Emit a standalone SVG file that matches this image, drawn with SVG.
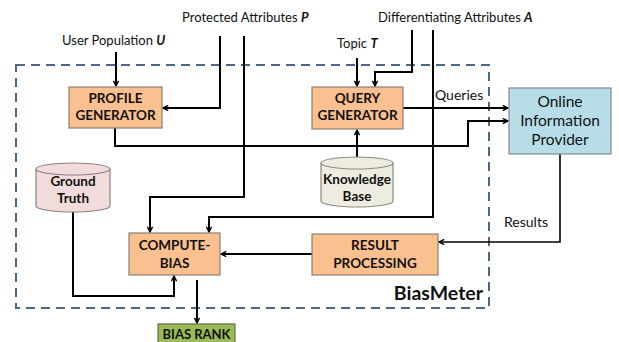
<svg xmlns="http://www.w3.org/2000/svg" width="619" height="342" viewBox="0 0 619 342">
<style>
text{font-family:Lato,"Open Sans","Liberation Sans",sans-serif;fill:#111}
.lbl{font-size:13px}
.b{font-weight:bold;font-size:13.5px;text-anchor:middle}
.oip{font-size:15.5px;text-anchor:middle}
.box{fill:#fac08f;stroke:#8c7f74;stroke-width:1.2}
.c{fill:none;stroke:#000;stroke-width:2}
</style>
<defs>
<marker id="ah" viewBox="0 0 10 10" refX="9" refY="5" markerWidth="6.5" markerHeight="6.5" orient="auto" markerUnits="userSpaceOnUse">
<path d="M1,1 L9,5 L1,9" fill="none" stroke="#000" stroke-width="2.2"/>
</marker>
</defs>
<rect x="16" y="65" width="473" height="243" fill="none" stroke="#4a6888" stroke-width="2" stroke-dasharray="9,6"/>
<text x="483" y="300" style="font-size:19.5px;font-weight:bold;text-anchor:end">BiasMeter</text>

<g id="connectors">
<path class="c" d="M116,52 V86" marker-end="url(#ah)"/>
<path class="c" d="M220,36 V108 H163" marker-end="url(#ah)"/>
<path class="c" d="M244,36 V197 H150 V232" marker-end="url(#ah)"/>
<path class="c" d="M115,128 V146 H468 V121 H508" marker-end="url(#ah)"/>
<path class="c" d="M357,58 V86" marker-end="url(#ah)"/>
<path class="c" d="M412,30 V72 H375 V86" marker-end="url(#ah)"/>
<path class="c" d="M433,30 V217 H209 V232" marker-end="url(#ah)"/>
<path class="c" d="M403,108 H508" marker-end="url(#ah)"/>
<path class="c" d="M357,157 V130" marker-end="url(#ah)"/>
<path class="c" d="M560,154 V242 H439" marker-end="url(#ah)" style="stroke-width:1.6"/>
<path class="c" d="M312,254 H221" marker-end="url(#ah)"/>
<path class="c" d="M73,212 V296 H174 V276" marker-end="url(#ah)"/>
<path class="c" d="M197,280 V323" marker-end="url(#ah)"/>
</g>

<text class="lbl" x="62" y="45">User Population <tspan font-weight="bold" font-style="italic">U</tspan></text>
<text class="lbl" x="182" y="22">Protected Attributes <tspan font-weight="bold" font-style="italic">P</tspan></text>
<text class="lbl" x="337" y="48">Topic <tspan font-weight="bold" font-style="italic">T</tspan></text>
<text class="lbl" x="378" y="22">Differentiating Attributes <tspan font-weight="bold" font-style="italic">A</tspan></text>
<text class="lbl" x="435" y="100" style="font-size:14px">Queries</text>
<text class="lbl" x="504" y="227" style="font-size:14px">Results</text>

<g id="profile-generator">
<rect class="box" x="69" y="87" width="93" height="41"/>
<text class="b" x="115.5" y="103">PROFILE</text>
<text class="b" x="115.5" y="120">GENERATOR</text>
</g>
<g id="query-generator">
<rect class="box" x="312" y="87" width="91" height="42"/>
<text class="b" x="357.5" y="103">QUERY</text>
<text class="b" x="357.5" y="120">GENERATOR</text>
</g>
<g id="online-information-provider">
<rect x="509" y="88" width="102" height="66" fill="#b7dee8" stroke="#7f8c90" stroke-width="1.2"/>
<text class="oip" x="560" y="107">Online</text>
<text class="oip" x="560" y="126">Information</text>
<text class="oip" x="560" y="145">Provider</text>
</g>
<g id="ground-truth">
<path d="M36,169 V206 A37,6 0 0 0 110,206 V169" fill="#f2dcdb" stroke="#8c8080" stroke-width="1.2"/>
<ellipse cx="73" cy="169" rx="37" ry="6" fill="#f2dcdb" stroke="#8c8080" stroke-width="1.2"/>
<text class="b" x="73" y="186">Ground</text>
<text class="b" x="73" y="203">Truth</text>
</g>
<g id="knowledge-base">
<path d="M321,163 V201 A36,6 0 0 0 393,201 V163" fill="#eeece1" stroke="#8c8a80" stroke-width="1.2"/>
<ellipse cx="357" cy="163" rx="36" ry="6" fill="#eeece1" stroke="#8c8a80" stroke-width="1.2"/>
<text class="b" x="357" y="184">Knowledge</text>
<text class="b" x="357" y="201">Base</text>
</g>
<g id="compute-bias">
<rect class="box" x="129" y="233" width="91" height="42"/>
<text class="b" x="174.5" y="250">COMPUTE-</text>
<text class="b" x="174.5" y="268">BIAS</text>
</g>
<g id="result-processing">
<rect class="box" x="312" y="234" width="126" height="41"/>
<text class="b" x="375" y="250">RESULT</text>
<text class="b" x="375" y="268">PROCESSING</text>
</g>
<g id="bias-rank">
<rect x="158" y="324" width="77" height="22" fill="#9bbb59" stroke="#5f6f4a" stroke-width="1.2"/>
<text class="b" x="196.5" y="339" style="font-size:13px">BIAS RANK</text>
</g>
</svg>
